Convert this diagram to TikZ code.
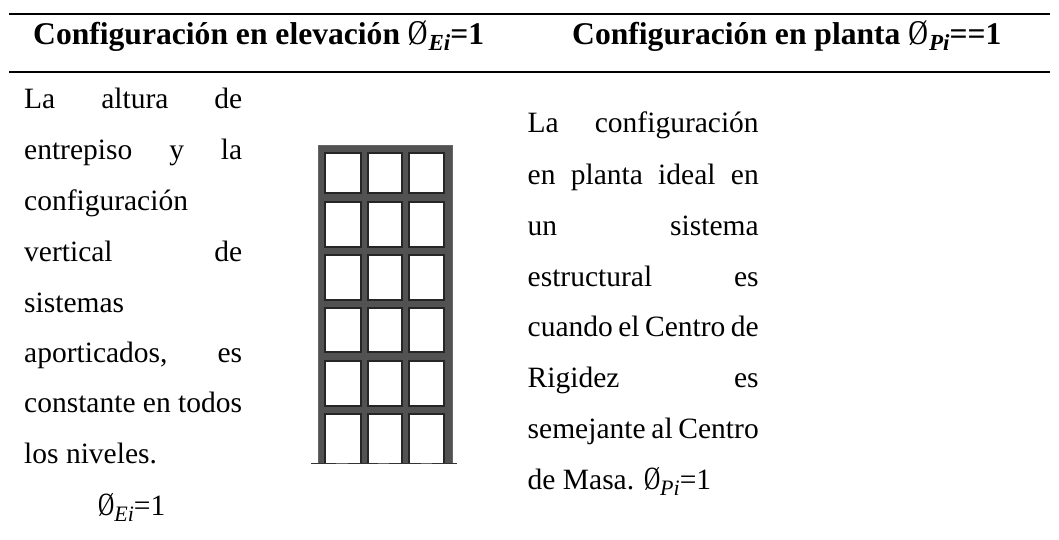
\documentclass[tikz,border=0pt]{standalone}
\usepackage{fontspec}
\setmainfont{Liberation Serif}
\newcommand{\phisym}{{\normalfont\scalebox{0.76}[1.1]{\O}}}
\newcommand{\phihead}{{\normalfont\scalebox{0.86}[1.1]{\O}\hspace{1pt}}}
\newcommand{\subE}[1]{\raisebox{-6pt}{\fontsize{22}{22}\selectfont\itshape #1}}
\newcommand{\subH}[1]{\raisebox{-6pt}{\fontsize{23}{23}\selectfont\itshape #1}}
\newcommand{\gp}{\hspace{4pt plus 1fil}}
\tikzset{
  x=1pt,y=-1pt,
  rulex/.style={line width=2pt,black},
  headtxt/.style={anchor=base west,inner sep=0pt,font=\fontsize{31.6}{31.6}\selectfont\bfseries},
  body/.style={anchor=base west,inner sep=0pt,font=\fontsize{29.5}{29.5}\selectfont},
  cellx/.style={fill=white,draw=black!85,line width=1.1pt},
  footx/.style={line width=1.5pt,black!80}
}
\newcommand{\jl}[4]{\node[body] (#3) at (#1) {\hbox to #2pt{#4}};}
\begin{document}
\begin{tikzpicture}
\useasboundingbox (0,0) rectangle (1059,540);
\coordinate (r1a) at (9,14); \coordinate (r1b) at (1050,14);
\coordinate (r2a) at (9,72); \coordinate (r2b) at (1050,72);
\draw[rulex] (r1a) -- (r1b);
\draw[rulex] (r2a) -- (r2b);
\node[headtxt] (h1) at (33,45) {Configuración en elevación \phihead\subH{Ei}=1};
\node[headtxt] (h2) at (572,45) {Configuración en planta \phihead\subH{Pi}==1};
% left column
\jl{24,109}{218}{a1}{La\hfill altura\hfill de}
\jl{24,160}{218}{a2}{entrepiso\hfill y\hfill la}
\node[body] (a3) at (24,210) {configuración};
\jl{24,261}{218}{a4}{vertical\hfill de}
\node[body] (a5) at (24,312) {sistemas};
\jl{24,362}{218}{a6}{aporticados,\hfill es}
\node[body] (a7) at (24,412) {constante en todos};
\node[body] (a8) at (24,463) {los niveles.};
\node[body] (a9) at (98,515) {\phisym\subE{Ei}=1};
% frame
\fill[black!68,draw=black!60,line width=.5pt] (318,145) rectangle (452,463);
\draw[cellx] (325,153) rectangle (361,193);
\draw[cellx] (368,153) rectangle (402,193);
\draw[cellx] (409,153) rectangle (444,193);
\draw[cellx] (325,202) rectangle (361,247);
\draw[cellx] (368,202) rectangle (402,247);
\draw[cellx] (409,202) rectangle (444,247);
\draw[cellx] (325,255) rectangle (361,300);
\draw[cellx] (368,255) rectangle (402,300);
\draw[cellx] (409,255) rectangle (444,300);
\draw[cellx] (325,308) rectangle (361,352);
\draw[cellx] (368,308) rectangle (402,352);
\draw[cellx] (409,308) rectangle (444,352);
\draw[cellx] (325,361) rectangle (361,406);
\draw[cellx] (368,361) rectangle (402,406);
\draw[cellx] (409,361) rectangle (444,406);
\fill[white] (325,414) rectangle (361,463);
\fill[white] (368,414) rectangle (402,463);
\fill[white] (409,414) rectangle (444,463);
\draw[cellx] (325,463) -- (325,414) -- (361,414) -- (361,463);
\draw[cellx] (368,463) -- (368,414) -- (402,414) -- (402,463);
\draw[cellx] (409,463) -- (409,414) -- (444,414) -- (444,463);
\draw[footx] (311,463.5) -- (336,463.5);
\draw[footx] (348,463.5) -- (378,463.5);
\draw[footx] (389,463.5) -- (421,463.5);
\draw[footx] (432,463.5) -- (457,463.5);
% right column
\jl{527.5,133}{231}{b1}{La\hfill configuración}
\jl{527.5,185}{231}{b2}{en\hfill planta\hfill ideal\hfill en}
\jl{527.5,235}{231}{b3}{un\hfill sistema}
\jl{527.5,286}{231}{b4}{estructural\hfill es}
\jl{527.5,336}{231}{b5}{cuando\gp el\gp Centro\gp de}
\jl{527.5,387}{231}{b6}{Rigidez\hfill es}
\jl{527.5,438}{231}{b7}{semejante\gp al\gp Centro}
\node[body] (b8) at (527.5,489) {de Masa. \phisym\subE{Pi}=1};
\end{tikzpicture}
\end{document}
